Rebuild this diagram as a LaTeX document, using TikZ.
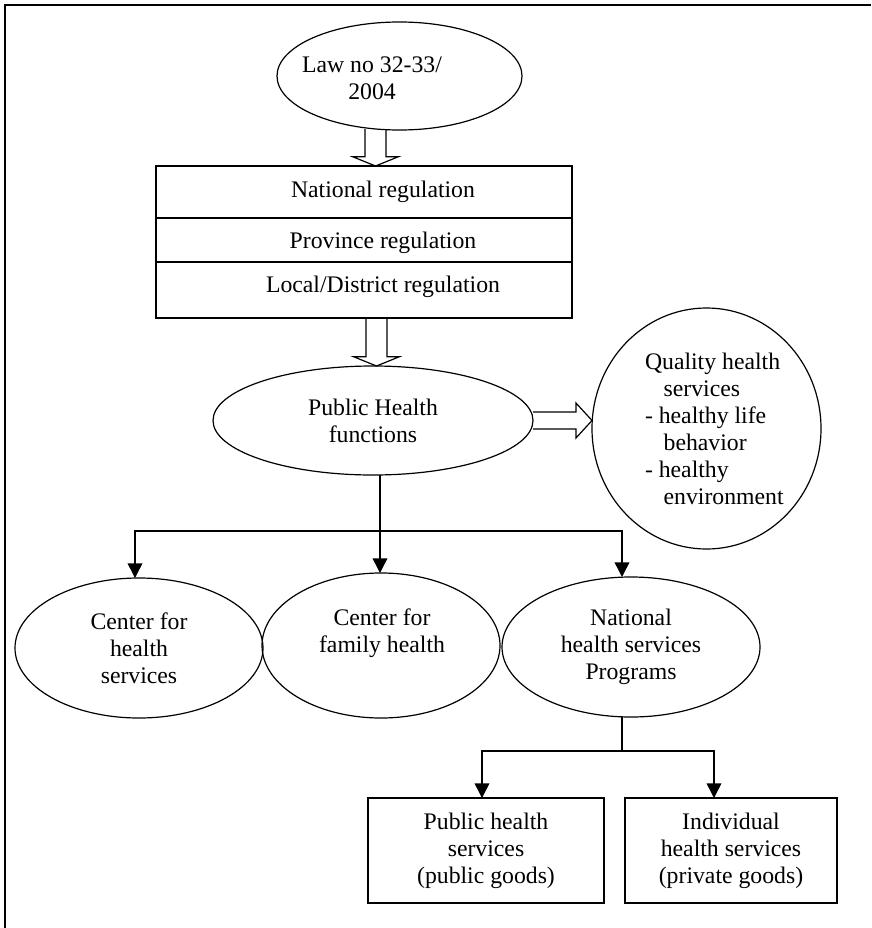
\documentclass[tikz,border=0pt]{standalone}
\usepackage{fontspec}
\setmainfont{Liberation Serif}
\usetikzlibrary{shapes.geometric,arrows.meta,calc}

% hollow block arrow pointing down, from anchor #1 to anchor #2 (same x)
\newcommand\blockdown[2]{%
  \path[blockarrow] let \p1=(#1), \p2=(#2) in
    (\x1-7.9pt,\y1) -- (\x1-7.9pt,\y2+7pt) -- (\x1-17.25pt,\y2+7pt) --
    (\x1,\y2) -- (\x1+17.25pt,\y2+7pt) -- (\x1+7.9pt,\y2+7pt) -- (\x1+7.9pt,\y1);}
% hollow block arrow pointing right, from anchor #1 to anchor #2 (same y)
\newcommand\blockright[2]{%
  \path[blockarrow] let \p1=(#1), \p2=(#2) in
    (\x1,\y1+6.4pt) -- (\x2-12pt,\y1+6.4pt) -- (\x2-12pt,\y1+13.1pt) --
    (\x2,\y1) -- (\x2-12pt,\y1-13.1pt) -- (\x2-12pt,\y1-6.4pt) -- (\x1,\y1-6.4pt);}

\begin{document}
\begin{tikzpicture}[x=0.75pt,y=-0.75pt,
  every node/.style={font=\fontsize{17.8}{20.25}\selectfont, inner sep=0pt, outer sep=0pt},
  oval/.style={draw, ellipse, line width=0.9pt},
  cell/.style={draw, rectangle, line width=0.9pt},
  link/.style={line width=1.1pt, -{Triangle[width=11pt,length=11pt]}},
  trunk/.style={line width=1.1pt},
  blockarrow/.style={draw, line width=0.9pt, line join=miter}]
\useasboundingbox (0,0) rectangle (871,928);

% frame
\draw[line width=1.5pt] (5,928) -- (5,5) -- (871,5);

% law
\node[oval, minimum width=183.75pt, minimum height=81pt] (law) at (399.5,76) {};
\node[align=center] (lawtext) at (372,78) {Law no 32-33/\\2004};

% regulation levels
\node[cell, minimum width=312pt, minimum height=39pt] (row1) at (364,192) {};
\node[cell, minimum width=312pt, minimum height=33pt] (row2) at (364,240) {};
\node[cell, minimum width=312pt, minimum height=42pt] (row3) at (364,290) {};
\node (natl) at (383,192) {National regulation};
\node (prov) at (383,243) {Province regulation};
\node (dist) at (383,287) {Local/District regulation};

% public health functions
\node[oval, minimum width=240pt, minimum height=81.75pt, align=center] (ph) at (373,420.5) {Public Health\\functions};

% outcome
\node[oval, minimum width=171.75pt, minimum height=180.75pt] (q) at (706.5,428.5) {};
\node[align=left, anchor=west] (qtext) at (645,428.5)
  {Quality health\\\hspace*{14pt}services\\- healthy life\\\hspace*{14pt}behavior\\- healthy\\\hspace*{14pt}environment};

% centres and programs
\node[oval, minimum width=186pt, minimum height=105pt, align=center] (c1) at (139,648) {Center for\\health\\services};
\node[oval, minimum width=178.5pt, minimum height=108.75pt] (c2) at (381,645.5) {};
\node[align=center] (c2text) at (382,633.5) {Center for\\family health};
\node[oval, minimum width=193.5pt, minimum height=105pt, align=center] (c3) at (631,647) {National\\health services\\Programs};

% service types
\node[cell, minimum width=177pt, minimum height=78.75pt, align=center] (b1) at (486,850.5) {Public health\\services\\(public goods)};
\node[cell, minimum width=159pt, minimum height=78.75pt, align=center] (b2) at (731,850.5) {Individual\\health services\\(private goods)};

% block arrows
\coordinate (lawfoot) at (375.5,129);
\blockdown{lawfoot}{lawfoot |- row1.north}
\coordinate (regfoot) at (376.5,318);
\blockdown{regfoot}{regfoot |- ph.north}
\blockright{ph.east}{ph.east -| q.west}

% branching from public health functions
\coordinate (busL) at (135,531);
\coordinate (busM) at (380,531);
\coordinate (busR) at (622,531);
\draw[link] (busM) -- (busL) -- (busL |- c1.north);
\draw[link] (busM) -- (busR) -- (busR |- c3.north);
\draw[link] (busM |- ph.south) -- (busM |- c2.north);

% branching from national programs
\coordinate (fork) at (622,751);
\coordinate (forkL) at (482,751);
\coordinate (forkR) at (714,751);
\draw[trunk] (fork |- c3.south) -- (fork);
\draw[link] (fork) -- (forkL) -- (forkL |- b1.north);
\draw[link] (fork) -- (forkR) -- (forkR |- b2.north);
\end{tikzpicture}
\end{document}
